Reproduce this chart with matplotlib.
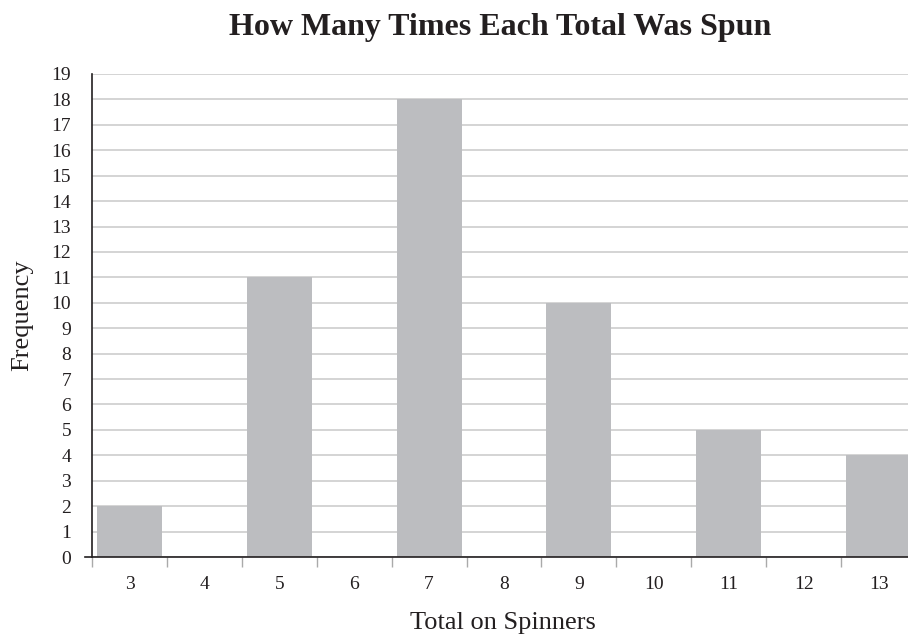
import matplotlib
matplotlib.use("Agg")
import matplotlib.pyplot as plt
import numpy as np

totals = [3, 4, 5, 6, 7, 8, 9, 10, 11, 12, 13]
frequency = [2, 0, 11, 0, 18, 0, 10, 0, 5, 0, 4]
y_ticks = list(range(0, 20))

plt.rcParams['font.family'] = ['Liberation Serif', 'DejaVu Serif']
txt = '#231F20'

W, H = 908, 637
fig = plt.figure(figsize=(W / 100, H / 100), dpi=100)
left_px, right_px, top_px, bottom_px = 92, 908, 74, 557
ax = fig.add_axes([left_px / W, 1 - bottom_px / H, (right_px - left_px) / W, (bottom_px - top_px) / H])

x = np.arange(len(totals))
ax.bar(x, frequency, width=0.867, color='#BCBDC0', edgecolor='none', zorder=2)

ax.set_yticks(y_ticks)
ax.set_yticklabels([str(v) for v in y_ticks], fontsize=14, color=txt)
ax.yaxis.grid(True, color='#CDCDCD', linewidth=1.2, zorder=0)
ax.set_axisbelow(True)
ax.tick_params(axis='y', length=0, pad=15)

ax.set_xticks(x)
ax.set_xticklabels([str(t) for t in totals], fontsize=14, color=txt)
ax.set_xticks(np.arange(-0.5, len(totals), 1.0), minor=True)
ax.tick_params(axis='x', which='major', length=0, pad=14)
ax.tick_params(axis='x', which='minor', length=7, color='#AAAAAA', width=1, direction='out')

ax.set_ylim(0, 19)
ax.set_xlim(-0.5, len(totals) - 0.5 - (916 - 908) / 75)

for s in ['top', 'right']:
    ax.spines[s].set_visible(False)
ax.spines['left'].set_color('#231F20')
ax.spines['left'].set_linewidth(1.2)
ax.spines['bottom'].set_color('#231F20')
ax.spines['bottom'].set_linewidth(1.2)
ax.spines['bottom'].set_bounds(-0.6, len(totals))

fig.text(503 / W, 1 - 629 / H, 'Total on Spinners', ha='center', va='baseline',
         fontsize=19, color=txt)
fig.text(22 / W, 1 - 315 / H, 'Frequency', ha='center', va='center', rotation=90,
         fontsize=19, color=txt)
fig.text(500 / W, 1 - 35 / H, 'How Many Times Each Total Was Spun', ha='center', va='baseline',
         fontsize=23, fontweight='bold', color=txt)

fig.savefig('out.png', dpi=100)
